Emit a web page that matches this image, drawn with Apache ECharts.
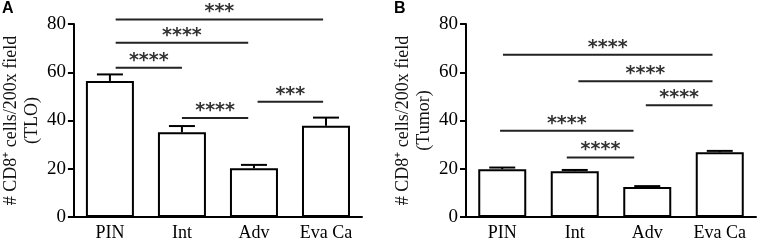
<!DOCTYPE html>
<html>
<head>
<meta charset="utf-8">
<script src="https://cdn.jsdelivr.net/npm/echarts@6/dist/echarts.min.js"></script>
<style>
  html, body { margin: 0; padding: 0; background: #fff; }
  #chart { width: 758px; height: 242px; }
</style>
</head>
<body>
<div id="chart"></div>
<script>
// groups on the x axis
const categories = ['PIN', 'Int', 'Adv', 'Eva Ca'];

// panel A: TLO counts (mean and upper error)
const tloMean = [56.4, 35.1, 20.2, 37.8];
const tloErr = [2.7, 2.6, 1.4, 3.4];

// panel B: tumor counts
const tumorMean = [19.8, 19.0, 12.4, 26.8];
const tumorErr = [0.7, 0.5, 0.4, 0.6];

const yTicks = [0, 20, 40, 60, 80];

// significance brackets: [from group, to group, height, stars]
const tloSig = [
  [0.08, 2.96, 81.9, '***'],
  [0.08, 1.92, 72.2, '****'],
  [0.08, 1.0, 61.9, '****'],
  [1.0, 1.92, 41.0, '****'],
  [2.05, 2.96, 47.8, '***'],
];
const tumorSig = [
  [0.01, 2.9, 67.3, '****'],
  [1.05, 2.9, 56.3, '****'],
  [1.98, 2.9, 46.3, '****'],
  [-0.03, 1.81, 35.7, '****'],
  [0.89, 1.82, 24.7, '****'],
];

const serif = 'Liberation Serif';
const chart = echarts.init(document.getElementById('chart'));

function xAxisFor(gridIndex) {
  return {
    type: 'category',
    gridIndex: gridIndex,
    data: categories,
    axisLine: { lineStyle: { color: '#000', width: 2 } },
    axisTick: { show: false },
    axisLabel: { interval: 0, color: '#000', fontFamily: serif, fontSize: 18, margin: 7 },
  };
}

function yAxisFor(gridIndex, name) {
  return {
    type: 'value',
    gridIndex: gridIndex,
    min: yTicks[0],
    max: yTicks[yTicks.length - 1],
    interval: 20,
    name: name,
    nameLocation: 'middle',
    nameGap: 29,
    nameTextStyle: { color: '#111', fontFamily: serif, fontSize: 18, lineHeight: 21 },
    axisLine: { show: true, lineStyle: { color: '#000', width: 2 } },
    axisTick: { show: true, length: 6, lineStyle: { color: '#000', width: 2 } },
    axisLabel: { color: '#000', fontFamily: serif, fontSize: 19, margin: 8 },
    splitLine: { show: false },
  };
}

function barSeries(idx, values) {
  return {
    type: 'bar',
    xAxisIndex: idx,
    yAxisIndex: idx,
    data: values,
    barWidth: 48,
    itemStyle: { color: '#fff', borderColor: '#000', borderWidth: 2 },
    silent: true,
  };
}

function errSeries(idx, means, errs) {
  return {
    type: 'custom',
    xAxisIndex: idx,
    yAxisIndex: idx,
    data: means.map((m, i) => [i, m, m + errs[i]]),
    z: 3,
    renderItem: function (params, api) {
      const base = api.coord([api.value(0), api.value(1)]);
      const top = api.coord([api.value(0), api.value(2)]);
      const st = { stroke: '#000', lineWidth: 2 };
      return {
        type: 'group',
        children: [
          { type: 'line', shape: { x1: base[0], y1: base[1], x2: top[0], y2: top[1] }, style: st },
          { type: 'line', shape: { x1: top[0] - 13, y1: top[1], x2: top[0] + 13, y2: top[1] }, style: st },
        ],
      };
    },
  };
}

function sigSeries(idx, sig) {
  return {
    type: 'custom',
    xAxisIndex: idx,
    yAxisIndex: idx,
    clip: false,
    z: 4,
    data: sig.map((s) => [s[0], s[1], s[2]]),
    renderItem: function (params, api) {
      const y = api.value(2);
      const origin = api.coord([0, y]);
      const band = api.size([1, 0])[0];
      const x1 = origin[0] + api.value(0) * band;
      const x2 = origin[0] + api.value(1) * band;
      return {
        type: 'group',
        children: [
          {
            type: 'line',
            shape: { x1: x1, y1: origin[1], x2: x2, y2: origin[1] },
            style: { stroke: '#222', lineWidth: 2 },
          },
          {
            type: 'text',
            x: (x1 + x2) / 2,
            y: origin[1] - 7,
            style: {
              text: sig[params.dataIndex][3],
              fill: '#333',
              font: 'bold 19px "DejaVu Sans"',
              align: 'center',
              verticalAlign: 'middle',
            },
          },
        ],
      };
    },
  };
}

const option = {
  animation: false,
  graphic: [
    { type: 'text', left: 2, top: 1, style: { text: 'A', font: 'bold 16px "Liberation Sans"', fill: '#000' } },
    { type: 'text', left: 394, top: 1, style: { text: 'B', font: 'bold 16px "Liberation Sans"', fill: '#000' } },
  ],
  grid: [
    { left: 71, top: 24, width: 291, height: 194 },
    { left: 466, top: 24, width: 290, height: 194 },
  ],
  xAxis: [xAxisFor(0), xAxisFor(1)],
  yAxis: [
    yAxisFor(0, '# CD8⁺ cells/200x field\n(TLO)'),
    yAxisFor(1, '# CD8⁺ cells/200x field\n(Tumor)'),
  ],
  series: [
    barSeries(0, tloMean),
    errSeries(0, tloMean, tloErr),
    sigSeries(0, tloSig),
    barSeries(1, tumorMean),
    errSeries(1, tumorMean, tumorErr),
    sigSeries(1, tumorSig),
  ],
};

chart.setOption(option);
</script>
</body>
</html>
